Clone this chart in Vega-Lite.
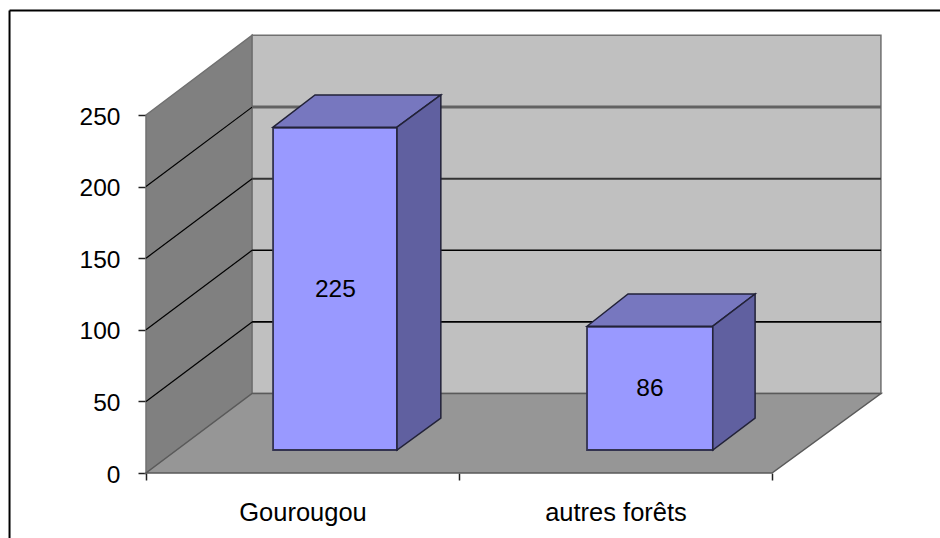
{"$schema":"https://vega.github.io/schema/vega-lite/v6.json","width":626,"height":358,"autosize":{"type":"none"},"padding":{"left":146,"top":115,"right":168,"bottom":65},"background":"white","config":{"view":{"stroke":null},"font":"Liberation Sans"},"resolve":{"scale":{"color":"independent","stroke":"independent"}},"datasets":{"room":[{"surface":"left wall","x":0,"y":250,"y2":0},{"surface":"left wall","x":0.339,"y":305.7,"y2":55.5},{"surface":"back wall","x":0.339,"y":305.7,"y2":55.5},{"surface":"back wall","x":2.348,"y":305.7,"y2":55.5},{"surface":"floor","x":0,"y":0,"y2":0},{"surface":"floor","x":0.339,"y":55.5,"y2":0},{"surface":"floor","x":2,"y":55.5,"y2":0},{"surface":"floor","x":2.348,"y":55.5,"y2":55.5}],"grid":[{"grid":"wall 50","x":0,"y":50},{"grid":"wall 50","x":0.339,"y":105.5},{"grid":"back 50","x":0.339,"y":105.5},{"grid":"back 50","x":2.348,"y":105.5},{"grid":"wall 100","x":0,"y":100},{"grid":"wall 100","x":0.339,"y":155.5},{"grid":"back 100","x":0.339,"y":155.5},{"grid":"back 100","x":2.348,"y":155.5},{"grid":"wall 150","x":0,"y":150},{"grid":"wall 150","x":0.339,"y":205.5},{"grid":"back 150","x":0.339,"y":205.5},{"grid":"back 150","x":2.348,"y":205.5},{"grid":"wall 200","x":0,"y":200},{"grid":"wall 200","x":0.339,"y":255.5},{"grid":"back 200","x":0.339,"y":255.5},{"grid":"back 200","x":2.348,"y":255.5}],"faces":[{"face":"top 1","x":0.406,"y":241.5,"y2":241.5},{"face":"top 1","x":0.54,"y":264,"y2":241.5},{"face":"top 1","x":0.802,"y":264,"y2":241.5},{"face":"top 1","x":0.942,"y":264,"y2":264},{"face":"side 1","x":0.802,"y":241.5,"y2":16},{"face":"side 1","x":0.942,"y":264,"y2":38.4},{"face":"top 2","x":1.409,"y":102.5,"y2":102.5},{"face":"top 2","x":1.54,"y":125,"y2":102.5},{"face":"top 2","x":1.811,"y":125,"y2":102.5},{"face":"top 2","x":1.946,"y":125,"y2":125},{"face":"side 2","x":1.811,"y":102.5,"y2":16},{"face":"side 2","x":1.946,"y":125,"y2":38.4}],"bars":[{"category":"Gourougou","x":0.406,"x2":0.802,"xc":0.605,"y":225,"mid":112.5},{"category":"autres forêts","x":1.409,"x2":1.811,"xc":1.61,"y":86,"mid":43}],"frame":[{"x":-0.436,"x2":-0.436,"y":323,"y2":-46},{"x":-0.436,"x2":2.54,"y":323,"y2":323}]},"encoding":{"x":{"field":"x","type":"quantitative","scale":{"domain":[0,2],"nice":false,"zero":false},"axis":{"title":null,"grid":false,"domain":false,"values":[0,0.5,1,1.5,2],"tickSize":7,"tickColor":"#222222","tickWidth":1.5,"tickOpacity":{"condition":{"test":"datum.value % 1 != 0","value":0},"value":1},"labelExpr":"datum.value == 0.5 ? 'Gourougou' : datum.value == 1.5 ? 'autres forêts' : ''","labelFont":"Liberation Sans","labelFontSize":25.5,"labelColor":"#000000","labelPadding":20,"labelOverlap":false,"labelBound":false,"labelFlush":false}},"y":{"field":"y","type":"quantitative","scale":{"domain":[0,250],"nice":false,"zero":false},"axis":{"title":null,"grid":false,"domain":false,"values":[0,50,100,150,200,250],"tickSize":8,"tickColor":"#222222","tickWidth":1.5,"labelFont":"Liberation Sans","labelFontSize":24.5,"labelColor":"#000000","labelPadding":18,"labelOffset":2,"labelOverlap":false,"labelBound":false}}},"layer":[{"data":{"name":"frame"},"mark":{"type":"rule","color":"#000000","strokeWidth":2},"encoding":{"x2":{"field":"x2"},"y2":{"field":"y2"}}},{"data":{"name":"room"},"mark":{"type":"area","strokeWidth":1.5},"encoding":{"y2":{"field":"y2"},"color":{"field":"surface","type":"nominal","legend":null,"scale":{"domain":["left wall","back wall","floor"],"range":["#808080","#c0c0c0","#969696"]}},"stroke":{"field":"surface","type":"nominal","legend":null,"scale":{"domain":["left wall","back wall","floor"],"range":["#707070","#707070","#5a5a5a"]}}}},{"data":{"name":"grid"},"mark":{"type":"line","interpolate":"linear"},"encoding":{"detail":{"field":"grid"},"color":{"field":"grid","type":"nominal","legend":null,"scale":{"domain":["wall 50","back 50","wall 100","back 100","wall 150","back 150","wall 200","back 200"],"range":["#000000","#000000","#000000","#000000","#000000","#333333","#000000","#626262"]}},"strokeWidth":{"field":"grid","type":"nominal","legend":null,"scale":{"type":"ordinal","domain":["wall 50","back 50","wall 100","back 100","wall 150","back 150","wall 200","back 200"],"range":[1.2,1.6,1.2,1.6,1.2,2,1.2,3]}}}},{"data":{"name":"bars"},"mark":{"type":"rect","color":"#9999ff","stroke":"#333350","strokeWidth":1.8,"yOffset":-23,"y2Offset":-23},"encoding":{"x2":{"field":"x2"},"y2":{"datum":0}}},{"data":{"name":"faces"},"mark":{"type":"area","stroke":"#222238","strokeWidth":1.5},"encoding":{"y2":{"field":"y2"},"color":{"field":"face","type":"nominal","legend":null,"scale":{"domain":["top 1","side 1","top 2","side 2"],"range":["#7777bf","#6060a0","#7777bf","#6060a0"]}}}},{"data":{"name":"bars"},"mark":{"type":"text","font":"Liberation Sans","fontSize":24.5,"color":"#000000","baseline":"middle","align":"center","yOffset":-22},"encoding":{"x":{"field":"xc","type":"quantitative"},"y":{"field":"mid","type":"quantitative"},"text":{"field":"y","type":"quantitative"}}}]}
